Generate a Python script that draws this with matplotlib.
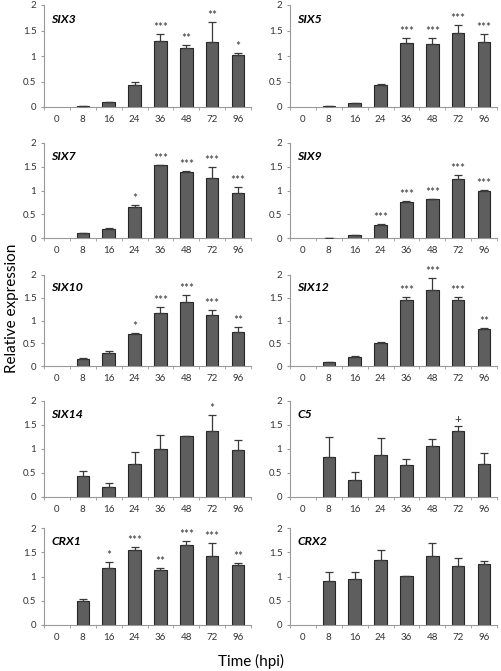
import numpy as np
import matplotlib.pyplot as plt

plt.rcParams['font.family'] = ['Lato', 'DejaVu Sans']

# time points (hours post infection)
hpi = ['0', '8', '16', '24', '36', '48', '72', '96']

# mean relative expression, upper error and significance marks
six3 = [0, 0.01, 0.09, 0.43, 1.29, 1.16, 1.27, 1.01]
six3_err = [0, 0, 0, 0.06, 0.14, 0.06, 0.39, 0.05]
six3_sig = ['', '', '', '', '***', '**', '**', '*']

six5 = [0, 0.01, 0.07, 0.43, 1.25, 1.24, 1.46, 1.27]
six5_err = [0, 0, 0.01, 0.03, 0.10, 0.12, 0.14, 0.17]
six5_sig = ['', '', '', '', '***', '***', '***', '***']

six7 = [0, 0.10, 0.20, 0.65, 1.53, 1.38, 1.27, 0.94]
six7_err = [0, 0, 0.02, 0.04, 0.01, 0.03, 0.22, 0.13]
six7_sig = ['', '', '', '*', '***', '***', '***', '***']

six9 = [0, 0.01, 0.06, 0.28, 0.76, 0.83, 1.24, 0.99]
six9_err = [0, 0, 0, 0.01, 0.02, 0, 0.08, 0.02]
six9_sig = ['', '', '', '***', '***', '***', '***', '***']

six10 = [0, 0.15, 0.28, 0.70, 1.17, 1.41, 1.11, 0.75]
six10_err = [0, 0.02, 0.06, 0.03, 0.12, 0.16, 0.13, 0.10]
six10_sig = ['', '', '', '*', '***', '***', '***', '**']

six12 = [0, 0.09, 0.20, 0.50, 1.46, 1.67, 1.45, 0.82]
six12_err = [0, 0, 0.01, 0.02, 0.06, 0.27, 0.06, 0.01]
six12_sig = ['', '', '', '', '***', '***', '***', '**']

six14 = [0, 0.44, 0.20, 0.68, 1.01, 1.28, 1.37, 0.98]
six14_err = [0, 0.11, 0.09, 0.26, 0.29, 0, 0.34, 0.21]
six14_sig = ['', '', '', '', '', '', '*', '']

c5 = [0, 0.83, 0.36, 0.87, 0.67, 1.07, 1.38, 0.69]
c5_err = [0, 0.41, 0.16, 0.35, 0.13, 0.14, 0.10, 0.23]
c5_sig = ['', '', '', '', '', '', '+', '']

crx1 = [0, 0.50, 1.18, 1.55, 1.13, 1.64, 1.43, 1.23]
crx1_err = [0, 0.03, 0.11, 0.06, 0.05, 0.09, 0.27, 0.04]
crx1_sig = ['', '', '*', '***', '**', '***', '***', '**']

crx2 = [0, 0.90, 0.95, 1.35, 1.01, 1.43, 1.21, 1.25]
crx2_err = [0, 0.20, 0.15, 0.20, 0.01, 0.27, 0.18, 0.06]
crx2_sig = ['', '', '', '', '', '', '', '']

panels = [
    ('SIX3', six3, six3_err, six3_sig), ('SIX5', six5, six5_err, six5_sig),
    ('SIX7', six7, six7_err, six7_sig), ('SIX9', six9, six9_err, six9_sig),
    ('SIX10', six10, six10_err, six10_sig), ('SIX12', six12, six12_err, six12_sig),
    ('SIX14', six14, six14_err, six14_sig), ('C5', c5, c5_err, c5_sig),
    ('CRX1', crx1, crx1_err, crx1_sig), ('CRX2', crx2, crx2_err, crx2_sig),
]

W, H = 502, 671
fig = plt.figure(figsize=(W / 100, H / 100), dpi=100)

# pixel extents of the plotting areas (top = value 2, bottom = value 0)
rows_px = [(5, 107), (143, 238), (275, 366), (401, 497), (528, 625)]
cols_px = [(44, 251), (290, 497)]

x = np.arange(len(hpi))
for i, (name, vals, err, sig) in enumerate(panels):
    r, c = divmod(i, 2)
    top, bot = rows_px[r]
    l, rr = cols_px[c]
    ax = fig.add_axes([l / W, 1 - bot / H, (rr - l) / W, (bot - top) / H])

    vals = np.array(vals)
    err = np.array(err)
    edges = ['#262626' if v > 0 else 'none' for v in vals]
    ax.bar(x, vals, width=0.48, color='#5e5e5e', edgecolor=edges, linewidth=0.8, zorder=2)
    nz = vals > 0
    ax.errorbar(x[nz], vals[nz], yerr=[np.zeros(nz.sum()), err[nz]], fmt='none',
                ecolor='#3a3a3a', elinewidth=0.9, capsize=3.2, capthick=0.9, zorder=3)
    for xi, v, e, s in zip(x, vals, err, sig):
        if s:
            ax.text(xi, v + e + 0.02, s, ha='center', va='bottom', fontsize=8.5, color='#333333')

    ax.text(0.035, 0.86, name, transform=ax.transAxes, fontsize=8.8, fontweight='bold',
            fontstyle='italic', va='center', ha='left', color='black')

    ax.set_xlim(-0.5, len(hpi) - 0.5)
    ax.set_ylim(0, 2)
    ax.set_yticks([0, 0.5, 1, 1.5, 2])
    ax.set_yticklabels(['0', '0.5', '1', '1.5', '2'])
    ax.set_xticks(x)
    ax.set_xticklabels(hpi)
    ax.set_xticks(np.arange(len(hpi) + 1) - 0.5, minor=True)
    ax.tick_params(axis='x', which='major', length=0, pad=6, labelsize=7, labelcolor='#333333')
    ax.tick_params(axis='x', which='minor', length=2.5, color='#999999', direction='out')
    ax.tick_params(axis='y', length=2.5, color='#999999', pad=3, labelsize=7, labelcolor='#333333')
    for sp in ['top', 'right']:
        ax.spines[sp].set_visible(False)
    for sp in ['left', 'bottom']:
        ax.spines[sp].set_color('#999999')
        ax.spines[sp].set_linewidth(0.8)

fig.text(12 / W, 1 - 308 / H, 'Relative expression', rotation=90, ha='center', va='center',
         fontsize=11, color='black')
fig.text(251 / W, 1 - 661 / H, 'Time (hpi)', ha='center', va='center', fontsize=11, color='black')

fig.savefig('out.png', dpi=100)
